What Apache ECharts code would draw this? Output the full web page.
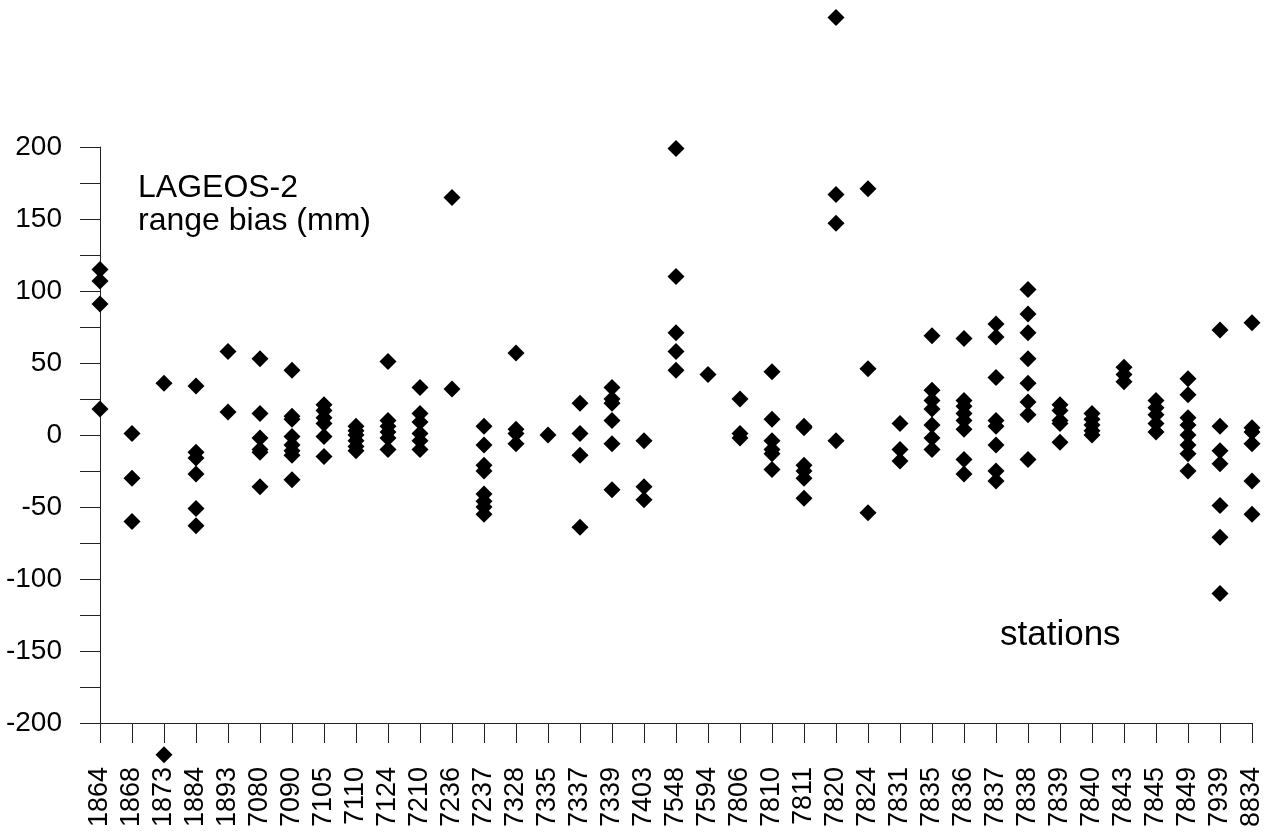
<!DOCTYPE html>
<html>
<head>
<meta charset="utf-8">
<script src="https://cdn.jsdelivr.net/npm/echarts@6/dist/echarts.min.js"></script>
<style>
  html, body { margin: 0; padding: 0; background: #fff; }
  #chart { width: 1271px; height: 837px; }
</style>
</head>
<body>
<div id="chart"></div>
<script>
// SLR stations (ILRS pad IDs) along the x axis
const stations = ['1864','1868','1873','1884','1893','7080','7090','7105','7110','7124',
  '7210','7236','7237','7328','7335','7337','7339','7403','7548','7594','7806','7810',
  '7811','7820','7824','7831','7835','7836','7837','7838','7839','7840','7843','7845',
  '7849','7939','8834'];

// LAGEOS-2 range bias estimates per station (mm), one row per station
const rangeBias = [
  [115, 107, 91, 18],                    // 1864
  [1, -30, -60],                         // 1868
  [36, -222],                            // 1873
  [34, -12, -16, -27, -51, -63],         // 1884
  [58, 16],                              // 1893
  [53, 15, -2, -10, -12, -36],           // 7080
  [45, 13, 11, -1, -7, -11, -14, -31],   // 7090
  [21, 17, 12, 8, -1, -15],              // 7105
  [6, 3, 0, -4, -8, -11],                // 7110
  [51, 10, 6, 2, -2, -10],               // 7124
  [33, 15, 9, 1, -4, -10],               // 7210
  [165, 32],                             // 7236
  [6, -7, -21, -25, -41, -46, -50, -55], // 7237
  [57, 4, 1, -6],                        // 7328
  [0],                                   // 7335
  [22, 1, -14, -64],                     // 7337
  [33, 25, 22, 10, -6, -38],             // 7339
  [-4, -36, -45],                        // 7403
  [199, 110, 71, 58, 45],                // 7548
  [42],                                  // 7594
  [25, 1, -2],                           // 7806
  [44, 11, -4, -10, -13, -24],           // 7810
  [6, 5, -21, -25, -30, -44],            // 7811
  [290, 167, 147, -4],                   // 7820
  [171, 46, -54],                        // 7824
  [8, -10, -18],                         // 7831
  [69, 31, 24, 18, 7, -2, -10],          // 7835
  [67, 24, 20, 15, 10, 4, -17, -27],     // 7836
  [77, 68, 40, 10, 6, -7, -25, -32],     // 7837
  [101, 84, 71, 53, 36, 23, 14, -17],    // 7838
  [21, 17, 10, 8, -5],                   // 7839
  [15, 11, 7, 3, 0],                     // 7840
  [47, 42, 37],                          // 7843
  [24, 19, 14, 8, 2],                    // 7845
  [39, 28, 12, 7, 0, -7, -13, -25],      // 7849
  [73, 6, -11, -20, -49, -71, -110],     // 7939
  [78, 5, 2, -6, -32, -55]               // 8834
];

// y axis: -200 .. 200, ticks every 25, labelled every 50
const yMin = -200, yMax = 200, yStep = 25, yLabelStep = 50;

const points = [];
stations.forEach((s, i) => rangeBias[i].forEach(v => points.push([s, v])));

const FONT = '"Liberation Sans", Arial, Helvetica, sans-serif';
const AXIS = '#222';

const chart = echarts.init(document.getElementById('chart'), null, { renderer: 'canvas' });
chart.setOption({
  animation: false,
  backgroundColor: '#ffffff',
  grid: { left: 100, right: 19, top: 147, bottom: 114, outerBoundsMode: 'none', containLabel: false },
  xAxis: {
    type: 'category',
    data: stations,
    boundaryGap: false,
    axisLine: { show: true, onZero: false, lineStyle: { color: AXIS, width: 1 } },
    axisTick: { show: true, interval: 0, length: 20, inside: false, lineStyle: { color: AXIS, width: 1 } },
    axisLabel: { interval: 0, rotate: 90, margin: 44, color: '#000', fontFamily: FONT, fontSize: 27, hideOverlap: false },
    splitLine: { show: false }
  },
  yAxis: {
    type: 'value',
    min: yMin, max: yMax, interval: yStep,
    axisLine: { show: true, onZero: false, lineStyle: { color: AXIS, width: 1 } },
    axisTick: { show: true, length: 20, inside: false, lineStyle: { color: AXIS, width: 1 } },
    axisLabel: {
      margin: 38, color: '#000', fontFamily: FONT, fontSize: 28,
      formatter: v => (v % yLabelStep === 0 ? String(v) : '')
    },
    splitLine: { show: false }
  },
  series: [{
    type: 'scatter',
    data: points,
    symbol: 'diamond',
    symbolSize: 17,
    clip: false,
    itemStyle: { color: '#000', opacity: 1 },
    z: 5
  }],
  graphic: [
    { type: 'text', left: 138, top: 172,
      style: { text: 'LAGEOS-2', font: '32px ' + FONT, fill: '#000' } },
    { type: 'text', left: 138, top: 205,
      style: { text: 'range bias (mm)', font: '32px ' + FONT, fill: '#000' } },
    { type: 'text', left: 1000, top: 618,
      style: { text: 'stations', font: '35px ' + FONT, fill: '#000' } }
  ]
});
</script>
</body>
</html>
